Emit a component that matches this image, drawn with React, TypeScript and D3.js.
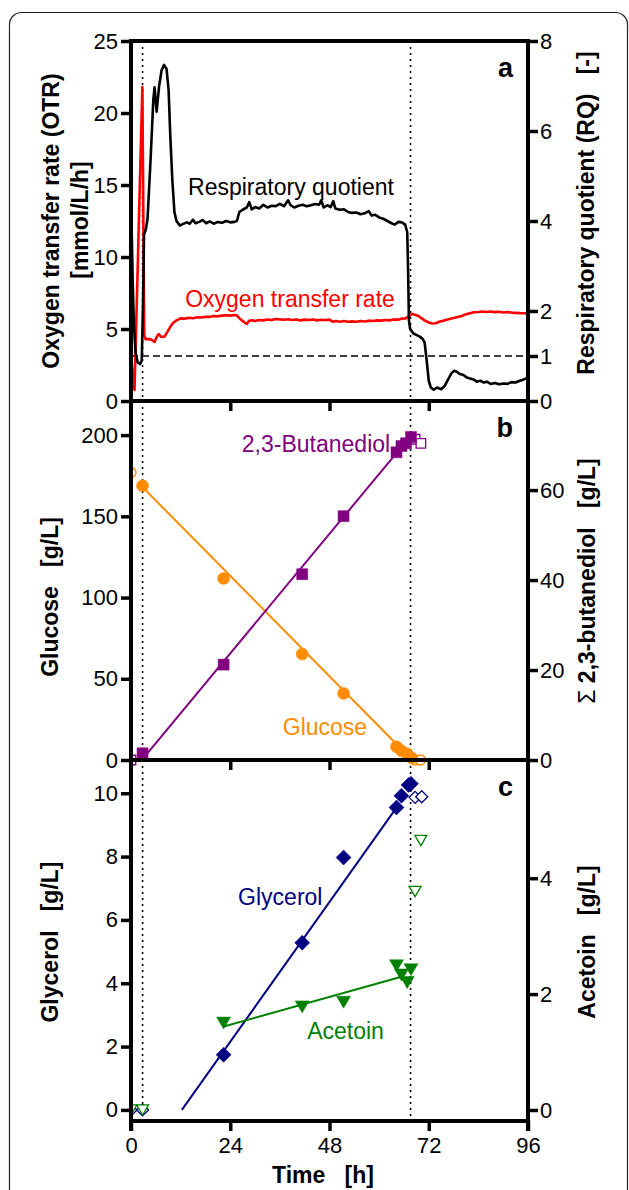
import React, { useEffect, useRef } from 'react';
import * as d3 from 'd3';

// Three stacked panels sharing a time axis:
// a) OTR + RQ online signals, b) glucose / 2,3-butanediol, c) glycerol / acetoin.

const W = 629;
const H = 1190;
const X0 = 131;
const X1 = 528;
const FONT = "'Liberation Sans', Arial, Helvetica, sans-serif";

const timeTicks = [0, 24, 48, 72, 96];
const phaseTimes = [2.8, 67.6];

// ---- panel a ----
const otrTicks = [0, 5, 10, 15, 20, 25];
const rqTicks = [0, 1, 2, 4, 6, 8];
const rqReference = 1;

const rqSeries: [number, number][] = [
  [0.2, 3.65], [0.4, 2.7], [0.7, 1.7], [1.1, 1.08], [1.6, 0.86], [2.2, 0.82], [2.6, 0.9],
  [2.9, 2.1], [3.15, 3.7], [3.6, 3.82], [4.0, 4.05], [4.7, 5.3], [5.4, 6.7], [5.7, 6.97],
  [6.2, 6.43], [6.8, 7.0], [7.4, 7.35], [8.0, 7.47], [8.6, 7.38], [9.1, 6.9], [9.5, 5.9],
  [10.0, 4.9], [10.5, 4.2], [11.0, 4.0], [11.8, 3.9], [12.5, 3.93], [13.5, 3.97], [14.2, 3.94],
  [15.0, 4.03], [15.6, 3.95], [16.5, 3.98], [17.3, 4.02], [18.2, 3.95], [19.0, 3.99],
  [20.0, 3.94], [21.0, 3.98], [22.0, 3.96], [23.0, 4.0], [24.0, 3.97], [25.0, 3.98],
  [25.6, 4.0], [26.2, 4.2], [27.0, 4.25], [28.0, 4.3], [28.6, 4.42], [29.2, 4.26],
  [30.0, 4.31], [31.0, 4.28], [32.0, 4.36], [33.0, 4.3], [34.0, 4.34], [35.0, 4.33],
  [36.0, 4.38], [37.0, 4.33], [38.0, 4.46], [38.6, 4.35], [39.5, 4.3], [40.5, 4.34],
  [41.5, 4.36], [42.5, 4.33], [43.5, 4.35], [44.5, 4.38], [45.5, 4.36], [46.0, 4.46],
  [46.6, 4.3], [47.5, 4.35], [48.3, 4.31], [48.9, 4.44], [49.4, 4.28], [50.5, 4.25],
  [51.5, 4.26], [52.5, 4.2], [53.5, 4.18], [54.5, 4.19], [55.5, 4.15], [56.5, 4.17],
  [57.5, 4.22], [58.2, 4.12], [59.0, 4.14], [60.0, 4.08], [61.0, 4.05], [62.0, 4.0],
  [63.0, 3.95], [63.8, 3.92], [64.6, 3.98], [65.5, 3.97], [66.3, 3.92], [66.8, 3.75],
  [67.0, 2.95], [67.2, 1.8], [67.5, 1.6], [68.3, 1.5], [69.0, 1.47], [69.8, 1.43],
  [70.5, 1.38], [71.0, 1.3], [71.5, 0.9], [72.0, 0.45], [72.5, 0.3], [73.2, 0.25],
  [74.0, 0.3], [75.0, 0.26], [75.9, 0.34], [76.8, 0.5], [77.5, 0.62], [78.1, 0.67],
  [78.8, 0.65], [79.5, 0.6], [80.4, 0.58], [81.2, 0.52], [82.0, 0.5], [83.0, 0.47],
  [83.6, 0.43], [84.5, 0.45], [85.3, 0.41], [86.0, 0.43], [87.0, 0.38], [88.0, 0.4],
  [89.0, 0.37], [90.0, 0.39], [91.0, 0.38], [92.0, 0.42], [93.0, 0.41], [94.0, 0.45],
  [95.0, 0.48], [96.0, 0.52],
];

const otrSeries: [number, number][] = [
  [0.2, 2.6], [0.5, 1.5], [0.85, 0.76], [2.75, 21.8], [3.2, 4.6], [3.5, 4.3], [4.5, 4.3],
  [5.0, 4.25], [5.7, 4.1], [6.3, 4.5], [6.7, 4.65], [7.3, 4.45], [8.1, 4.47], [8.8, 4.8],
  [9.5, 5.15], [10.1, 5.4], [11.0, 5.6], [12.0, 5.74], [13.0, 5.72], [14.0, 5.78],
  [15.0, 5.75], [16.0, 5.82], [17.0, 5.8], [18.0, 5.85], [19.0, 5.84], [20.0, 5.9],
  [21.0, 5.88], [22.0, 5.93], [23.0, 5.95], [24.0, 5.93], [25.0, 5.97], [25.6, 5.95],
  [26.2, 5.75], [26.8, 5.6], [27.5, 5.45], [28.0, 5.35], [28.5, 5.55], [29.2, 5.6],
  [30.0, 5.55], [31.0, 5.62], [32.0, 5.6], [33.0, 5.66], [34.0, 5.63], [35.0, 5.7],
  [36.0, 5.67], [37.0, 5.64], [38.0, 5.68], [39.0, 5.63], [40.0, 5.66], [41.0, 5.6],
  [42.0, 5.65], [43.0, 5.62], [44.0, 5.66], [45.0, 5.6], [46.0, 5.64], [47.0, 5.62],
  [48.0, 5.65], [48.8, 5.5], [49.5, 5.55], [50.5, 5.5], [51.5, 5.55], [52.5, 5.5],
  [53.5, 5.53], [54.5, 5.5], [55.5, 5.55], [56.5, 5.52], [57.5, 5.58], [58.5, 5.56],
  [59.5, 5.6], [60.5, 5.58], [61.5, 5.63], [62.5, 5.6], [63.5, 5.66], [64.5, 5.65],
  [65.5, 5.72], [66.4, 5.74], [67.2, 5.9], [68.0, 6.05], [68.8, 5.98], [69.5, 5.9],
  [70.3, 5.74], [71.0, 5.6], [72.0, 5.45], [72.8, 5.38], [73.7, 5.4], [74.5, 5.5],
  [75.3, 5.55], [76.1, 5.63], [77.0, 5.7], [78.0, 5.76], [79.0, 5.84], [80.0, 5.9],
  [81.0, 6.02], [82.0, 6.1], [82.9, 6.16], [84.0, 6.18], [85.0, 6.22], [86.0, 6.18],
  [87.0, 6.21], [88.0, 6.17], [89.0, 6.2], [90.0, 6.15], [91.0, 6.18], [92.0, 6.14],
  [93.0, 6.12], [94.0, 6.1], [95.0, 6.09], [96.0, 6.1],
];

// ---- panel b ----
const glucoseTicks = [0, 50, 100, 150, 200];
const bdoTicks = [0, 20, 40, 60];
const glucoseFilled: [number, number][] = [
  [2.8, 168.8], [22.4, 111.8], [41.4, 65.2], [51.4, 41], [64.2, 8.2], [65.4, 5.7], [66.8, 3.7], [67.9, 1.2],
];
const glucoseOpen: [number, number][] = [[0, 177], [68.7, 0], [70.0, 0]];
const glucoseFit: [number, number][] = [[2.8, 168], [68.0, 0]];
const bdoFilled: [number, number][] = [
  [2.8, 1.5], [22.4, 21.2], [41.4, 41.3], [51.4, 54.2], [64.2, 68.4], [65.4, 69.8], [66.5, 70.4], [67.7, 71.8],
];
const bdoOpen: [number, number][] = [[0, 0], [68.7, 71.3], [70.1, 70.4]];
const bdoFit: [number, number][] = [[2.8, 0.2], [67.6, 72]];

// ---- panel c ----
const glycerolTicks = [0, 2, 4, 6, 8, 10];
const acetoinTicks = [0, 2, 4];
const glycerolFilled: [number, number][] = [
  [22.4, 1.74], [41.4, 5.28], [51.4, 7.97], [64.2, 9.55], [65.4, 9.92], [67.1, 10.26], [67.7, 10.3],
];
const glycerolOpen: [number, number][] = [[0, 0], [2.8, 0], [68.7, 9.87], [70.3, 9.89]];
const glycerolFit: [number, number][] = [[12.3, 0], [64.5, 9.6]];
const acetoinFilled: [number, number][] = [
  [22.4, 1.5], [41.4, 1.78], [51.4, 1.86], [64.2, 2.49], [65.4, 2.33], [66.8, 2.2], [67.7, 2.42],
];
const acetoinOpen: [number, number][] = [[0, 0], [2.8, 0], [68.7, 3.77], [70.1, 4.65]];
const acetoinFit: [number, number][] = [[22.4, 1.44], [65.4, 2.3]];

const ORANGE = '#ff8c00';
const PURPLE = '#800080';
const NAVY = '#000080';
const GREEN = '#008000';
const RED = '#ff0000';

const square = (cx: number, cy: number, s: number) =>
  `M${cx - s / 2},${cy - s / 2}h${s}v${s}h${-s}Z`;
const diamond = (cx: number, cy: number, s: number) =>
  `M${cx},${cy - s / 2}L${cx + s / 2},${cy}L${cx},${cy + s / 2}L${cx - s / 2},${cy}Z`;
const triDown = (cx: number, cy: number, w: number) => {
  const h = w * 0.85;
  return `M${cx - w / 2},${cy - h / 2}L${cx + w / 2},${cy - h / 2}L${cx},${cy + h / 2}Z`;
};
const circle = (cx: number, cy: number, s: number) =>
  `M${cx - s / 2},${cy}a${s / 2},${s / 2} 0 1,0 ${s},0a${s / 2},${s / 2} 0 1,0 ${-s},0Z`;

export default function App() {
  const svgRef = useRef<SVGSVGElement>(null);

  useEffect(() => {
    const svg = d3.select(svgRef.current);
    svg.selectAll('*').remove();
    svg.append('rect').attr('width', W).attr('height', H).attr('fill', 'white');

    // outer rounded frame (runs off the bottom of the page)
    svg
      .append('rect')
      .attr('x', 9.5)
      .attr('y', 12.5)
      .attr('width', 618)
      .attr('height', 1230)
      .attr('rx', 12)
      .attr('fill', 'none')
      .attr('stroke', '#222')
      .attr('stroke-width', 1.2);

    svg
      .append('clipPath')
      .attr('id', 'plotclip')
      .append('rect')
      .attr('x', X0)
      .attr('y', 0)
      .attr('width', W - X0)
      .attr('height', H);

    const x = d3.scaleLinear().domain([0, 96]).range([X0, X1]);

    const otrY = d3.scaleLinear().domain([0, 25]).range([401, 41]);
    const rqY = d3.scaleLinear().domain([0, 8]).range([401, 41]);
    const gluY = d3.scaleLinear().domain([0, 221]).range([760, 401]);
    const bdoY = d3.scaleLinear().domain([0, 79.8]).range([760, 401]);
    const glyY = d3.scaleLinear().domain([-0.35, 11.05]).range([1121, 760]);
    const aceY = d3.scaleLinear().domain([-0.19, 6.04]).range([1121, 760]);

    const panels = [
      { top: 41, bottom: 401 },
      { top: 401, bottom: 760 },
      { top: 760, bottom: 1121 },
    ];

    const plot = svg.append('g').attr('clip-path', 'url(#plotclip)');

    // phase boundaries (dotted) in every panel
    panels.forEach((p, i) => {
      phaseTimes.forEach((t) => {
        plot
          .append('line')
          .attr('x1', x(t))
          .attr('x2', x(t))
          .attr('y1', p.top)
          .attr('y2', i === 2 ? p.bottom - 4 : p.bottom)
          .attr('stroke', '#000')
          .attr('stroke-width', 1.6)
          .attr('stroke-dasharray', '2,4');
      });
    });

    // RQ = 1 reference
    plot
      .append('line')
      .attr('x1', X0)
      .attr('x2', X1)
      .attr('y1', rqY(rqReference))
      .attr('y2', rqY(rqReference))
      .attr('stroke', '#000')
      .attr('stroke-width', 1.6)
      .attr('stroke-dasharray', '7,4');

    const drawLine = (
      data: [number, number][],
      y: d3.ScaleLinear<number, number>,
      color: string,
      width: number,
    ) => {
      const line = d3
        .line<[number, number]>()
        .x((d) => x(d[0]))
        .y((d) => y(d[1]));
      plot
        .append('path')
        .datum(data)
        .attr('d', line)
        .attr('fill', 'none')
        .attr('stroke', color)
        .attr('stroke-width', width)
        .attr('stroke-linejoin', 'round');
    };

    drawLine(otrSeries, otrY, RED, 2.6);
    drawLine(rqSeries, rqY, '#000', 2.6);

    drawLine(glucoseFit, gluY, ORANGE, 2);
    drawLine(bdoFit, bdoY, PURPLE, 2);
    drawLine(glycerolFit, glyY, NAVY, 2);
    drawLine(acetoinFit, aceY, GREEN, 2);

    const drawMarks = (
      data: [number, number][],
      y: d3.ScaleLinear<number, number>,
      shape: (cx: number, cy: number, s: number) => string,
      size: number,
      color: string,
      filled: boolean,
    ) => {
      plot
        .append('g')
        .selectAll('path')
        .data(data)
        .enter()
        .append('path')
        .attr('d', (d) => shape(x(d[0]), y(d[1]), size))
        .attr('fill', filled ? color : 'white')
        .attr('stroke', color)
        .attr('stroke-width', filled ? 0.5 : 1.3);
    };

    drawMarks(glucoseOpen, gluY, circle, 10, ORANGE, false);
    drawMarks(glucoseFilled, gluY, circle, 12, ORANGE, true);
    drawMarks(bdoOpen, bdoY, square, 9.5, PURPLE, false);
    drawMarks(bdoFilled, bdoY, square, 11, PURPLE, true);

    drawMarks(glycerolOpen, glyY, diamond, 12, NAVY, false);
    drawMarks(glycerolFilled, glyY, diamond, 15, NAVY, true);
    drawMarks(acetoinOpen, aceY, triDown, 12, GREEN, false);
    drawMarks(acetoinFilled, aceY, triDown, 14, GREEN, true);

    // ---- axes ----
    const styleAxis = (g: d3.Selection<SVGGElement, unknown, null, undefined>) => {
      g.attr('font-size', 22).attr('font-family', FONT);
      g.select('.domain').remove();
      g.selectAll('.tick line').attr('stroke', '#000').attr('stroke-width', 3.5);
      g.selectAll('.tick text').attr('fill', '#000');
    };

    const leftSpecs = [
      { y: otrY, ticks: otrTicks },
      { y: gluY, ticks: glucoseTicks },
      { y: glyY, ticks: glycerolTicks },
    ];
    const rightSpecs = [
      { y: rqY, ticks: rqTicks },
      { y: bdoY, ticks: bdoTicks },
      { y: aceY, ticks: acetoinTicks },
    ];

    leftSpecs.forEach((s) => {
      svg
        .append('g')
        .attr('transform', `translate(${X0},0)`)
        .call(d3.axisLeft(s.y).tickValues(s.ticks).tickSize(10).tickPadding(3).tickFormat(d3.format('d')))
        .call(styleAxis);
    });
    rightSpecs.forEach((s) => {
      svg
        .append('g')
        .attr('transform', `translate(${X1},0)`)
        .call(d3.axisRight(s.y).tickValues(s.ticks).tickSize(10).tickPadding(2).tickFormat(d3.format('d')))
        .call(styleAxis);
    });

    // time ticks at the foot of every panel; labels only on the last one
    panels.forEach((p, i) => {
      const axis = d3
        .axisBottom(x)
        .tickValues(i === 2 ? timeTicks : timeTicks.slice(1, -1))
        .tickSize(10)
        .tickPadding(6);
      if (i < 2) axis.tickFormat(() => '');
      svg
        .append('g')
        .attr('transform', `translate(0,${p.bottom})`)
        .call(axis)
        .call(styleAxis);
    });

    // panel frames
    const frame = svg.append('g').attr('stroke', '#000').attr('stroke-width', 4);
    frame.append('line').attr('x1', X0).attr('x2', X0).attr('y1', 39).attr('y2', 1131);
    frame.append('line').attr('x1', X1).attr('x2', X1).attr('y1', 39).attr('y2', 1131);
    [41, 401, 760, 1121].forEach((yy) => {
      frame.append('line').attr('x1', X0).attr('x2', X1).attr('y1', yy).attr('y2', yy);
    });

    // ---- series labels ----
    const label = (t: number, yPx: number, text: string, color: string) => {
      svg
        .append('text')
        .attr('x', x(t))
        .attr('y', yPx)
        .attr('font-family', FONT)
        .attr('font-size', 23)
        .attr('fill', color)
        .text(text);
    };
    label(13.8, rqY(4.58), 'Respiratory quotient', '#000');
    label(13.1, otrY(6.53), 'Oxygen transfer rate', RED);
    label(26.8, bdoY(68.5), '2,3-Butanediol', PURPLE);
    label(36.7, gluY(15.4), 'Glucose', ORANGE);
    label(25.9, glyY(6.47), 'Glycerol', NAVY);
    label(42.6, aceY(1.23), 'Acetoin', GREEN);

    // panel letters
    ['a', 'b', 'c'].forEach((l, i) => {
      svg
        .append('text')
        .attr('x', X1 - 15)
        .attr('y', panels[i].top + 36)
        .attr('text-anchor', 'end')
        .attr('font-family', FONT)
        .attr('font-weight', 'bold')
        .attr('font-size', 27)
        .text(l);
    });

    // ---- axis titles ----
    const vTitle = (xb: number, yc: number, text: string) =>
      svg
        .append('text')
        .attr('transform', `translate(${xb},${yc}) rotate(-90)`)
        .attr('text-anchor', 'middle')
        .attr('font-family', FONT)
        .attr('font-weight', 'bold')
        .attr('font-size', 23)
        .style('white-space', 'pre')
        .text(text);

    vTitle(59, 221, 'Oxygen transfer rate (OTR)');
    vTitle(88, 220, '[mmol/L/h]');
    vTitle(58, 597, 'Glucose   [g/L]');
    vTitle(58, 942, 'Glycerol   [g/L]');
    vTitle(594, 213, 'Respiratory quotient (RQ)   [-]');
    const bdoTitle = vTitle(595, 581, '');
    bdoTitle.append('tspan').attr('font-weight', 'normal').text('Σ ');
    bdoTitle.append('tspan').text('2,3-butanediol   [g/L]');
    vTitle(595, 942, 'Acetoin   [g/L]');

    svg
      .append('text')
      .attr('x', 323)
      .attr('y', 1183)
      .attr('text-anchor', 'middle')
      .attr('font-family', FONT)
      .attr('font-weight', 'bold')
      .attr('font-size', 23)
      .style('white-space', 'pre')
      .text('Time   [h]');
  }, []);

  return (
    <svg
      ref={svgRef}
      width={W}
      height={H}
      style={{ position: 'absolute', left: 0, top: 0, display: 'block' }}
    />
  );
}
